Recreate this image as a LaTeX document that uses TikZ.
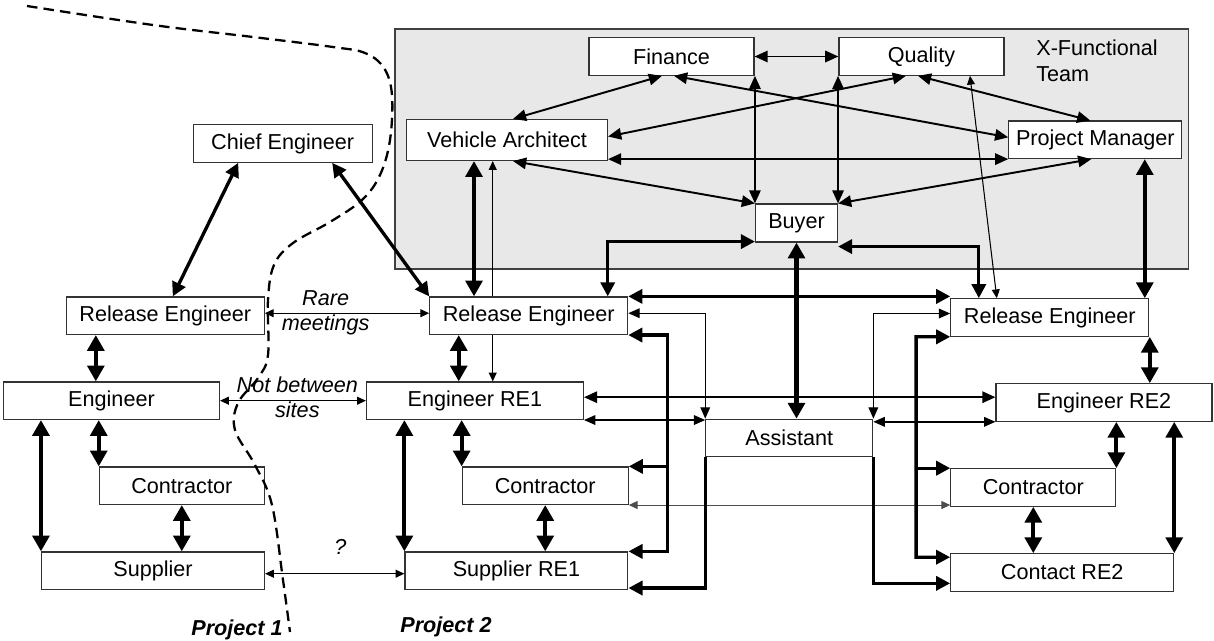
\documentclass[tikz,border=0pt]{standalone}
\usepackage{fontspec}
\setmainfont{Liberation Sans}
\usetikzlibrary{shapes, arrows.meta, calc, positioning}
\tikzstyle{box} =
        [
                rectangle,
                draw = black!80,
                fill = white,
                line width = 0.65pt,
                minimum height = 0.75cm,
                inner sep = 0pt,
                text centered
        ]
\tikzstyle{team} =
        [
                rectangle,
                draw = black!75,
                fill = black!9,
                line width = 0.75pt,
                minimum width = 15.87cm,
                minimum height = 4.8cm
        ]
\tikzstyle{teamname} =
        [
                anchor = north west,
                align = left,
                inner sep = 0pt,
                font = \fontsize{12.3}{15.3}\selectfont
        ]
\tikzstyle{note} =
        [
                align = center,
                inner sep = 0pt,
                font = \fontsize{12.3}{14.2}\selectfont\itshape
        ]
\tikzstyle{tag} =
        [
                anchor = base,
                inner sep = 0pt,
                font = \fontsize{12.3}{14.2}\selectfont\bfseries\itshape
        ]
\tikzstyle{bold} =
        [
                draw,
                line width = 2.4pt,
                > = {Triangle[length = 9pt, width = 9.5pt]},
                <->
        ]
\tikzstyle{heavy} =
        [
                draw,
                line width = 1.9pt,
                > = {Triangle[length = 8pt, width = 8pt]},
                <->
        ]
\tikzstyle{link} =
        [
                draw,
                line width = 1.1pt,
                > = {Triangle[length = 7.5pt, width = 6.5pt]},
                <->
        ]
\tikzstyle{wire} =
        [
                draw,
                line width = 0.8pt,
                > = {Triangle[length = 6.5pt, width = 5.5pt]},
                <->
        ]
\tikzstyle{fine} =
        [
                draw,
                line width = 0.6pt,
                > = {Triangle[length = 5pt, width = 4.5pt]},
                <->
        ]
\tikzstyle{divider} =
        [
                draw,
                line width = 1.3pt,
                dash pattern = on 6pt off 3.5pt
        ]

\begin{document}
\begin{tikzpicture}[x = 0.02cm, y = -0.02cm, font = \fontsize{12.3}{14.2}\selectfont]
        \useasboundingbox (0,0) rectangle (1214,640);

        \node [team] (team) at (791.8,149) {};
        \node [teamname] (teamname) at (1036,39) {X-Functional\\Team};

        \node [box, minimum width = 3.3cm] (finance) at (671.5,56.5) {Finance};
        \node [box, minimum width = 3.3cm, right of = finance, node distance = 5cm] (quality) {Quality};
        \node [box, minimum width = 4.02cm, minimum height = 0.82cm] (arch) at (507,140) {Vehicle Architect};
        \node [box, minimum width = 3.46cm] (pm) at (1095.3,139.8) {Project Manager};
        \node [box, minimum width = 1.64cm, minimum height = 0.76cm] (buyer) at (796.5,223) {Buyer};
        \node [box, minimum width = 3.58cm] (chief) at (282.7,143.5) {Chief Engineer};

        \node [box, minimum width = 3.96cm] (reA) at (165.3,315.7) {Release Engineer};
        \node [box, minimum width = 4.32cm] (engA) at (111.5,400.7) {Engineer};
        \node [box, minimum width = 3.3cm] (conA) at (181.8,485.7) {Contractor};
        \node [box, minimum width = 4.46cm] (supA) at (153,570.7) {Supplier};

        \node [box, minimum width = 3.96cm, right of = reA, node distance = 7.27cm] (reB) {Release Engineer};
        \node [box, minimum width = 4.34cm, right of = engA, node distance = 7.27cm] (engB) {Engineer RE1};
        \node [box, minimum width = 3.32cm, right of = conA, node distance = 7.27cm] (conB) {Contractor};
        \node [box, minimum width = 4.46cm, right of = supA, node distance = 7.27cm] (supB) {Supplier RE1};

        \node [box, minimum width = 3.34cm] (assist) at (789.3,438) {Assistant};

        \node [box, minimum width = 3.96cm] (reC) at (1049.8,317.5) {Release Engineer};
        \node [box, minimum width = 4.32cm] (engC) at (1104,402.5) {Engineer RE2};
        \node [box, minimum width = 3.3cm] (conC) at (1033.3,487.5) {Contractor};
        \node [box, minimum width = 4.46cm] (cntC) at (1062.2,572.5) {Contact RE2};

        \node [tag] (proj1) at (237,635) {Project 1};
        \node [tag] (proj2) at (446,632) {Project 2};

        \path [link] (finance) -- (quality);
        \path [link] ([xshift = -0.19cm]finance.south) -- ([xshift = 0.12cm]arch.north);
        \path [link] ([xshift = 0.05cm]finance.south) -- ([yshift = 0.05cm]pm.west);
        \path [link] ([xshift = -0.31cm]quality.south) -- ([yshift = 0.07cm]arch.east);
        \path [link] ([xshift = -0.07cm]quality.south) -- ([xshift = -0.1cm]pm.north);
        \path [link] (arch.east |- pm.south west) -- (pm.south west);
        \path [link] ([xshift = 0.12cm]arch.south) -- (buyer.north west);
        \path [link] ([xshift = -0.08cm]pm.south) -- (buyer.north east);
        \path [link] (buyer.north west |- finance.south) -- (buyer.north west);
        \path [link] (buyer.north east |- quality.south) -- (buyer.north east);
        \path [fine] ([xshift = 0.97cm]quality.south) -- ([xshift = -1.06cm]reC.north);

        \path [heavy] ([xshift = -0.89cm]chief.south) -- ([xshift = 0.15cm]reA.north);
        \path [heavy] ([xshift = 0.99cm]chief.south) -- (reB.north west);
        \path [bold] ([xshift = -0.66cm]arch.south) -- ([xshift = -0.66cm]arch.south |- reB.north);
        \path [fine, ->] ([xshift = -0.72cm]reB.north) -- ([xshift = -0.72cm]reB.north |- arch.south);
        \path [fine, ->] ([xshift = -0.72cm]reB.south) -- ([xshift = -0.72cm]reB.south |- engB.north);
        \path [heavy] ([yshift = 0.02cm]buyer.south west) -| ([xshift = 1.58cm]reB.north);
        \path [heavy] ([yshift = -0.08cm]buyer.south east) -| ([xshift = -1.42cm]reC.north);
        \path [bold] (buyer.south) -- (buyer.south |- assist.north);
        \path [heavy] (reB.north east) -- (reB.north east -| reC.west);
        \path [bold] ([xshift = 0.99cm]pm.south) -- ([xshift = 0.99cm]pm.south |- reC.north);

        \path [wire] ([yshift = 0.05cm]reB.east) -| (assist.north west);
        \path [wire] ([yshift = 0.08cm]reC.west) -| (assist.north east);
        \path [wire] (engB.south east) -- (engB.south east -| assist.west);
        \path [wire] (assist.north east |- engC.south west) -- (engC.south west);
        \path [link] ([yshift = 0.07cm]engB.east) -- ([yshift = 0.07cm]engB.east -| engC.west);
        \path [fine, draw = black!70] (conB.south east) -- (conB.south east -| conC.west);

        \path [heavy] (reB.south east) -| ($(supB.north east) + (39,0)$) -- (supB.north east);
        \path [heavy, ->] ($(conB.north east) + (39,0)$) -- (conB.north east);
        \path [heavy] (reC.south west) -| ($(cntC.north west) + (-34,4)$) -- ([yshift = -0.08cm]cntC.north west);
        \path [heavy, ->] ($(conC.north west) + (-34,0)$) -- (conC.north west);
        \path [heavy, ->] (assist.south west) |- ([yshift = 0.04cm]supB.south east);
        \path [heavy, ->] (assist.south east) |- ([yshift = 0.17cm]cntC.south west);

        \path [bold] ([xshift = -1.39cm]reA.south) -- ([xshift = -1.39cm]reA.south |- engA.north);
        \path [bold] (conA.north west |- engA.south) -- (conA.north west);
        \path [bold] (supA.north west |- engA.south) -- (supA.north west);
        \path [bold] (conA.south) -- (conA.south |- supA.north);
        \path [bold] ([xshift = -1.4cm]reB.south) -- ([xshift = -1.4cm]reB.south |- engB.north);
        \path [bold] (conB.north west |- engB.south) -- (conB.north west);
        \path [bold] (supB.north west |- engB.south) -- (supB.north west);
        \path [bold] (conB.south) -- (conB.south |- supB.north);
        \path [bold] ([xshift = 2cm]reC.south) -- ([xshift = 2cm]reC.south |- engC.north);
        \path [bold] (conC.north east |- engC.south) -- (conC.north east);
        \path [bold] (cntC.north east |- engC.south) -- (cntC.north east);
        \path [bold] (conC.south) -- (conC.south |- cntC.north);

        \path [fine] ([yshift = 0.05cm]reA.east) -- ([yshift = 0.05cm]reA.east -| reB.west) node [note, pos = 0.37] {Rare\\meetings};
        \path [fine] (engA.east) -- (engA.east -| engB.west) node [note, pos = 0.53, yshift = 0.06cm] {Not between\\sites};
        \path [fine] ([yshift = -0.06cm]supA.east) -- ([yshift = -0.06cm]supA.east -| supB.west) node [note, pos = 0.54, above = 0.37cm] {?};

        \path [divider] plot [smooth, tension = 0.6] coordinates {(27,6) (153,25) (253,37) (333,47) (365,53) (384,68) (392,95) (390,140) (380,175) (362,200) (330,222) (293,243) (274,265) (268,300) (268,355) (258,378) (238,403) (235,430) (255,465) (272,505) (283,580) (290,632)};
\end{tikzpicture}
\end{document}
